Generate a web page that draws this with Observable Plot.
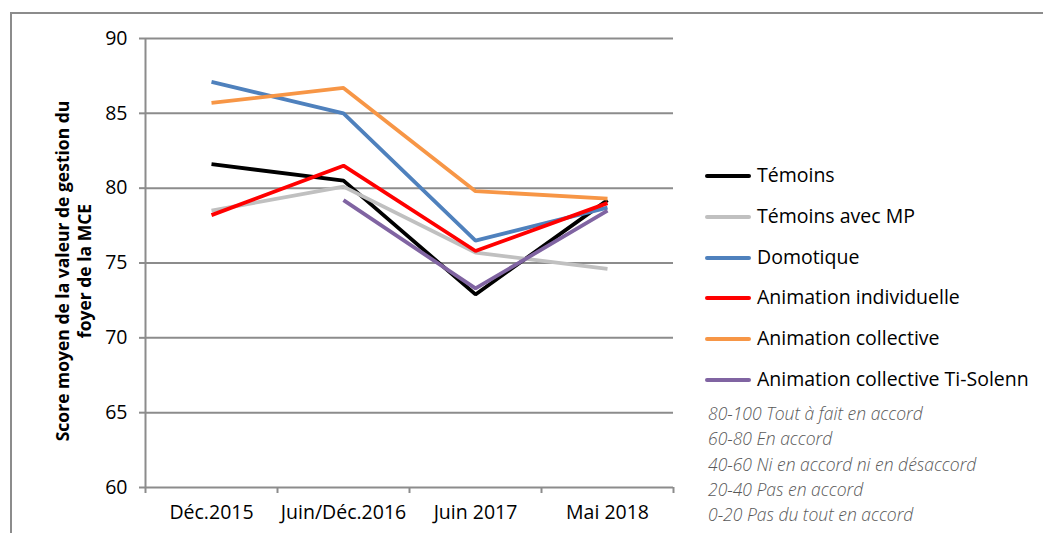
<!DOCTYPE html>
<html><head><meta charset="utf-8">
<script src="https://cdn.jsdelivr.net/npm/d3@7"></script>
<script src="https://cdn.jsdelivr.net/npm/@observablehq/plot@0.6"></script>
<style>
body{margin:0;background:#fff;font-family:"Open Sans",sans-serif;}
#wrap{position:relative;width:1043px;height:533px;overflow:hidden;}
#frame{position:absolute;left:10px;top:12px;width:1100px;height:600px;border-top:2px solid #8c8c8c;border-left:2px solid #8c8c8c;}
#ylab{position:absolute;left:73px;top:271px;width:480px;transform:translate(-50%,-50%) rotate(-90deg);text-align:center;font-weight:bold;font-size:17.5px;line-height:22px;color:#000;}
#legend{position:absolute;left:705px;top:161px;font-size:19.5px;color:#000;}
.li{height:40.8px;display:flex;align-items:flex-start;}
.sw{width:46px;height:4px;margin-top:13px;margin-right:6px;border-radius:2px;}
#notes{position:absolute;left:708px;top:401px;font-size:17.5px;font-style:italic;font-weight:300;color:#595959;line-height:25.3px;}
svg{position:absolute;left:0;top:0;}
</style></head><body>
<div id="wrap"><div id="frame"></div><div id="chart"></div>
<div id="ylab">Score moyen de la valeur de gestion du<br>foyer de la MCE</div>
<div id="legend"></div><div id="notes"></div></div>
<script>
const categories = ["Déc.2015", "Juin/Déc.2016", "Juin 2017", "Mai 2018"];
const seriesNames = ["Témoins", "Témoins avec MP", "Domotique", "Animation individuelle", "Animation collective", "Animation collective Ti-Solenn"];
const seriesColors = ["#000000", "#c0c0c0", "#4f81bd", "#ff0000", "#f79646", "#8064a2"];
const temoins = [81.6, 80.5, 72.9, 79.2];
const temoinsMP = [78.5, 80.1, 75.7, 74.6];
const domotique = [87.1, 85.0, 76.5, 78.7];
const animIndiv = [78.2, 81.5, 75.8, 79.0];
const animColl = [85.7, 86.7, 79.8, 79.3];
const animTiSolenn = [null, 79.2, 73.3, 78.5];
const yTicks = [60, 65, 70, 75, 80, 85, 90];
const notes = ["80-100 Tout à fait en accord", "60-80 En accord", "40-60 Ni en accord ni en désaccord", "20-40 Pas en accord", "0-20 Pas du tout en accord"];

const allSeries = [temoins, temoinsMP, domotique, animIndiv, animColl, animTiSolenn];
const rows = [];
allSeries.forEach((vals, s) => vals.forEach((v, i) => { if (v != null) rows.push({series: seriesNames[s], i: i + 0.5, v}); }));

const chart = Plot.plot({
  width: 1043, height: 533,
  marginLeft: 145, marginRight: 370, marginTop: 38, marginBottom: 46,
  style: {fontFamily: "'Open Sans', sans-serif", fontSize: "19.5px", color: "#000", background: "transparent"},
  x: {type: "linear", domain: [0, categories.length]},
  y: {domain: [60, 90]},
  color: {domain: seriesNames, range: seriesColors},
  marks: [
    Plot.gridY(yTicks, {stroke: "#8c8c8c", strokeOpacity: 1, strokeWidth: 2}),
    Plot.ruleX([0], {stroke: "#8c8c8c", strokeWidth: 2}),
    Plot.axisY({ticks: yTicks, tickSize: 6, tickPadding: 12, stroke: "#8c8c8c", strokeWidth: 2, label: null, fontSize: 19.5}),
    Plot.axisX({ticks: d3.range(categories.length + 1), tickFormat: () => "", tickSize: 6, stroke: "#8c8c8c", strokeWidth: 2, label: null}),
    Plot.axisX({ticks: categories.map((c, i) => i + 0.5), tickFormat: d => categories[d - 0.5], tickSize: 0, tickPadding: 18, label: null, fontSize: 19.5}),
    Plot.line(rows, {x: "i", y: "v", z: "series", stroke: "series", strokeWidth: 3.8, strokeLinejoin: "miter", strokeLinecap: "butt"})
  ]
});
document.getElementById("chart").appendChild(chart);

const leg = document.getElementById("legend");
seriesNames.forEach((n, k) => {
  const d = document.createElement("div"); d.className = "li";
  d.innerHTML = `<span class="sw" style="background:${seriesColors[k]}"></span><span>${n}</span>`;
  leg.appendChild(d);
});
document.getElementById("notes").innerHTML = notes.map(n => `<div>${n}</div>`).join("");
</script></body></html>
